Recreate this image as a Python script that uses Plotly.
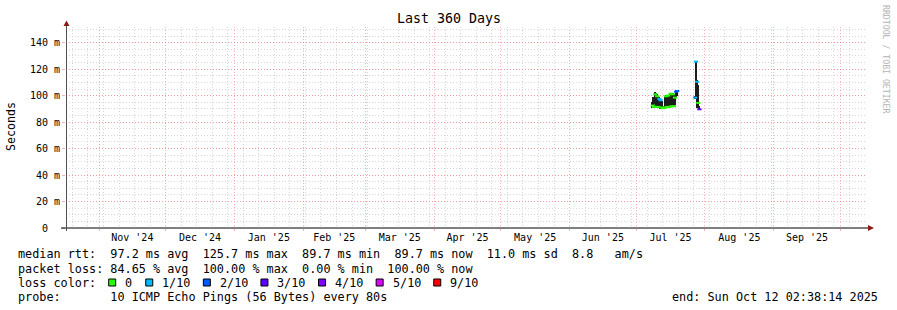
import plotly.graph_objects as go

# ---------------- data ----------------
range_start = "2024-10-17 02:38:14"
range_end = "2025-10-12 02:38:14"

sample_time = [
    "2025-07-08 12:00", "2025-07-09 00:00", "2025-07-09 12:00", "2025-07-10 00:00",
    "2025-07-10 12:00", "2025-07-11 00:00", "2025-07-11 12:00", "2025-07-12 00:00",
    "2025-07-12 12:00", "2025-07-13 00:00", "2025-07-13 12:00", "2025-07-14 00:00",
    "2025-07-14 12:00", "2025-07-15 00:00", "2025-07-15 12:00", "2025-07-16 00:00",
    "2025-07-16 12:00", "2025-07-17 00:00", "2025-07-17 12:00", "2025-07-18 00:00",
    "2025-07-18 12:00", "2025-07-19 00:00", "2025-07-19 12:00",
    "2025-07-27 12:00", "2025-07-28 00:00", "2025-07-28 12:00", "2025-07-29 00:00",
    "2025-07-29 12:00",
]
median_ms = [
    92.5, 91.5, 101.0, 91.5, 99.5, 91.5, 97.5, 96.5, 91.0, 90.5, 90.8, 91.0,
    99.5, 91.5, 100.0, 91.5, 101.5, 92.0, 101.0, 92.0, 98.5, 103.0, 103.5,
    98.5, 125.7, 110.5, 94.5, 89.7,
]
smoke_lo_ms = [
    90.5, 91.0, 91.0, 90.5, 91.0, 91.0, 92.0, 90.0, 90.0, 90.0, 90.0, 90.5,
    91.0, 91.0, 91.0, 91.0, 91.5, 91.5, 92.0, 92.0, 93.0, 98.0, 100.0,
    97.5, 98.0, 90.5, 90.5, 89.5,
]
smoke_hi_ms = [
    95.5, 99.0, 102.5, 102.0, 101.5, 100.0, 99.0, 98.0, 96.0, 92.0, 92.0, 99.0,
    100.5, 100.0, 100.5, 99.5, 102.0, 101.5, 102.0, 101.0, 100.0, 104.0, 104.5,
    100.0, 126.0, 112.0, 108.0, 92.0,
]
loss_tenths = [
    0, 0, 0, 0, 0, 0, 1, 1, 0, 0, 0, 0,
    0, 0, 0, 0, 0, 0, 0, 0, 0, 2, 2,
    1, 1, 1, 0, 3,
]

loss_levels = [0, 1, 2, 3, 4, 5, 9]
loss_labels = ["0", "1/10", "2/10", "3/10", "4/10", "5/10", "9/10"]
loss_colors = ["#26ff00", "#00b8ff", "#0059ff", "#5e00ff", "#7e00ff", "#dd00ff", "#ff0000"]

y_tick_vals = [0, 20, 40, 60, 80, 100, 120, 140]
y_tick_text = ["0\u00a0\u00a0", "20 m", "40 m", "60 m", "80 m", "100 m", "120 m", "140 m"]

stats_rtt = "median rtt:  97.2 ms avg  125.7 ms max  89.7 ms min  89.7 ms now  11.0 ms sd  8.8   am/s"
stats_loss = "packet loss: 84.65 % avg  100.00 % max  0.00 % min  100.00 % now"
probe_text = "probe:       10 ICMP Echo Pings (56 Bytes) every 80s"
end_text = "end: Sun Oct 12 02:38:14 2025"

# ---------------- layout geometry ----------------
W, H = 897, 310
L, R = 66, 865
T, B = 27, 228
MONO = "DejaVu Sans Mono"
MGRID = "rgba(255,110,110,0.55)"
GRID = "rgba(200,200,200,0.75)"
DASH = "1px,2px"


def px(x):
    return (x - L) / (R - L)


def py(y):
    return (B - y) / (B - T)


def nb(s):
    return s.replace(" ", "\u00a0")


color_of = {lv: c for lv, c in zip(loss_levels, loss_colors)}

fig = go.Figure()

# smoke
fig.add_trace(go.Bar(
    x=sample_time,
    y=[h - l for h, l in zip(smoke_hi_ms, smoke_lo_ms)],
    base=smoke_lo_ms,
    width=[20 * 3600 * 1000] * len(sample_time),
    marker=dict(color="#1c1c1c", line=dict(width=0)),
    hoverinfo="skip",
    showlegend=False,
))

# median, coloured by loss
fig.add_trace(go.Scatter(
    x=sample_time,
    y=median_ms,
    mode="markers",
    marker=dict(
        symbol="line-ew",
        size=3,
        line=dict(width=2, color=[color_of[v] for v in loss_tenths]),
    ),
    showlegend=False,
    hoverinfo="skip",
))

fig.update_xaxes(
    type="date",
    range=[range_start, range_end],
    tick0="2024-11-01",
    dtick="M1",
    ticklabelmode="period",
    tickformat="%b '%y",
    tickfont=dict(family=MONO, size=10, color="#000"),
    ticks="outside", ticklen=2, tickcolor=MGRID,
    ticklabelstandoff=-2,
    showgrid=True, gridcolor=MGRID, griddash=DASH, gridwidth=1,
    minor=dict(dtick=7 * 86400000, tick0="2024-10-20", showgrid=True,
               gridcolor=GRID, griddash=DASH, ticks=""),
    zeroline=False, showline=False, fixedrange=True,
)
fig.update_yaxes(
    range=[0, (B - T) / 1.3236],
    tickvals=y_tick_vals,
    ticktext=y_tick_text,
    tickfont=dict(family=MONO, size=10, color="#000"),
    ticks="outside", ticklen=3, tickcolor=MGRID,
    showgrid=True, gridcolor=MGRID, griddash=DASH, gridwidth=1,
    minor=dict(dtick=5, showgrid=True, gridcolor=GRID, griddash=DASH, ticks=""),
    zeroline=False, showline=False, fixedrange=True,
)

shapes = []
# axis lines
shapes.append(dict(type="line", xref="paper", yref="paper",
                   x0=px(61), x1=px(868), y0=py(228), y1=py(228),
                   line=dict(color="#000000", width=1), layer="above"))
shapes.append(dict(type="line", xref="paper", yref="paper",
                   x0=px(66.5), x1=px(66.5), y0=py(231), y1=py(24),
                   line=dict(color="#505050", width=1), layer="above"))
# arrows
shapes.append(dict(type="path", xref="paper", yref="paper",
                   path=f"M {px(63.5)},{py(26)} L {px(69.5)},{py(26)} L {px(66.5)},{py(20.5)} Z",
                   fillcolor="#8b1a1a", line=dict(width=0), layer="above"))
shapes.append(dict(type="path", xref="paper", yref="paper",
                   path=f"M {px(868)},{py(225)} L {px(868)},{py(231)} L {px(874)},{py(228)} Z",
                   fillcolor="#8b1a1a", line=dict(width=0), layer="above"))

annotations = []
annotations.append(dict(text="Last 360 Days", xref="paper", yref="paper",
                        x=px(448.5), y=py(19), xanchor="center", yanchor="middle",
                        showarrow=False, font=dict(family=MONO, size=13.3, color="#000")))
annotations.append(dict(text="Seconds", xref="paper", yref="paper",
                        x=px(10.5), y=py(126.5), xanchor="center", yanchor="middle",
                        textangle=-90, showarrow=False,
                        font=dict(family=MONO, size=11.6, color="#000")))
annotations.append(dict(text=nb("RRDTOOL / TOBI OETIKER"), xref="paper", yref="paper",
                        x=px(886), y=py(59), xanchor="center", yanchor="middle",
                        textangle=90, showarrow=False,
                        font=dict(family=MONO, size=8.2, color="#b4b4b4")))

FS = 11.8
line_y = [254, 268.5, 282.5, 296.5]
for txt, yy in [(stats_rtt, line_y[0]), (stats_loss, line_y[1]),
                ("loss color:", line_y[2]), (probe_text, line_y[3])]:
    annotations.append(dict(text=nb(txt), xref="paper", yref="paper",
                            x=px(16), y=py(yy), xanchor="left", yanchor="middle",
                            showarrow=False, font=dict(family=MONO, size=FS, color="#000")))
annotations.append(dict(text=nb(end_text), xref="paper", yref="paper",
                        x=px(880), y=py(line_y[3]), xanchor="right", yanchor="middle",
                        showarrow=False, font=dict(family=MONO, size=FS, color="#000")))

# loss colour legend boxes
CW = 6.85
bx = 108.7
for lab, col in zip(loss_labels, loss_colors):
    shapes.append(dict(type="rect", xref="paper", yref="paper",
                       x0=px(bx), x1=px(bx + 7), y0=py(line_y[2] + 3.5), y1=py(line_y[2] - 3.5),
                       fillcolor=col, line=dict(color="#000", width=1), layer="above"))
    annotations.append(dict(text=lab, xref="paper", yref="paper",
                            x=px(bx + 14.5), y=py(line_y[2]), xanchor="left", yanchor="middle",
                            showarrow=False, font=dict(family=MONO, size=FS, color="#000")))
    bx += 30.2 + len(lab) * CW

fig.update_layout(
    width=W, height=H, autosize=False,
    margin=dict(l=L, r=W - R, t=T, b=H - B, pad=0),
    paper_bgcolor="#ffffff", plot_bgcolor="#ffffff",
    bargap=0, barmode="overlay",
    shapes=shapes, annotations=annotations,
    showlegend=False,
    font=dict(family=MONO),
)

fig.write_html("out.html")
